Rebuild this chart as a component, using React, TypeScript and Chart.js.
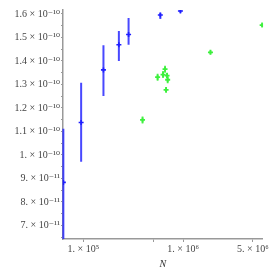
import React, { useEffect, useRef } from "react";
import { Chart, registerables } from "chart.js";

Chart.register(...registerables);

// Blue series (with error bars)
const blueN = [6.3e4, 9.5e4, 1.59e5, 2.27e5, 2.84e5, 5.91e5, 9.4e5];
const blueY = [8.83e-11, 1.138e-10, 1.362e-10, 1.469e-10, 1.513e-10, 1.596e-10, 1.613e-10];
const blueLo = [5.5e-11, 0.971e-10, 1.251e-10, 1.4e-10, 1.469e-10, 1.579e-10, 1.605e-10];
const blueHi = [1.111e-10, 1.307e-10, 1.467e-10, 1.528e-10, 1.583e-10, 1.605e-10, 1.62e-10];

// Green series (small error bars)
const greenN = [6.2e6, 1.88e6, 6.59e5, 6.29e5, 5.55e5, 6.9e5, 7.0e5, 6.75e5, 3.92e5];
const greenY = [1.553e-10, 1.437e-10, 1.365e-10, 1.342e-10, 1.331e-10, 1.338e-10, 1.32e-10, 1.277e-10, 1.149e-10];
const greenErr = [0.08e-11, 0.08e-11, 0.15e-11, 0.15e-11, 0.15e-11, 0.12e-11, 0.15e-11, 0.12e-11, 0.15e-11];

// Axes
const xTickValues = [1e5, 5e5, 1e6, 5e6];
const xTickLabels = ["1. × 10⁵", "", "1. × 10⁶", "5. × 10⁶"];
const yTickValues = [
  6.5e-11, 7e-11, 7.5e-11, 8e-11, 8.5e-11, 9e-11, 9.5e-11, 1e-10, 1.05e-10, 1.1e-10,
  1.15e-10, 1.2e-10, 1.25e-10, 1.3e-10, 1.35e-10, 1.4e-10, 1.45e-10, 1.5e-10, 1.55e-10, 1.6e-10,
];
const yTickLabels = [
  "", "7. × 10⁻¹¹", "", "8. × 10⁻¹¹", "", "9. × 10⁻¹¹", "", "1. × 10⁻¹⁰", "", "1.1 × 10⁻¹⁰",
  "", "1.2 × 10⁻¹⁰", "", "1.3 × 10⁻¹⁰", "", "1.4 × 10⁻¹⁰", "", "1.5 × 10⁻¹⁰", "", "1.6 × 10⁻¹⁰",
];
const xRange = [6.25e4, 6.3e6];
const yRange = [6.42e-11, 1.617e-10];

const BLUE = "rgb(30,30,255)";
const GREEN = "rgb(60,240,60)";

const errorBarPlugin = {
  id: "errorBars",
  beforeDatasetsDraw(chart: any) {
    const { ctx, chartArea, scales } = chart;
    const xs = scales.x;
    const ys = scales.y;
    ctx.save();
    ctx.beginPath();
    ctx.rect(chartArea.left - 2, chartArea.top, chartArea.right - chartArea.left + 4, chartArea.bottom - chartArea.top);
    ctx.clip();
    ctx.lineCap = "butt";
    ctx.strokeStyle = "rgba(40,40,255,0.85)";
    ctx.lineWidth = 2;
    blueN.forEach((n, i) => {
      const px = xs.getPixelForValue(n);
      ctx.beginPath();
      ctx.moveTo(px, ys.getPixelForValue(blueLo[i]));
      ctx.lineTo(px, ys.getPixelForValue(blueHi[i]));
      ctx.stroke();
    });
    ctx.strokeStyle = "rgba(60,240,60,0.9)";
    ctx.lineWidth = 1.8;
    greenN.forEach((n, i) => {
      const px = xs.getPixelForValue(n);
      ctx.beginPath();
      ctx.moveTo(px, ys.getPixelForValue(greenY[i] - greenErr[i]));
      ctx.lineTo(px, ys.getPixelForValue(greenY[i] + greenErr[i]));
      ctx.stroke();
    });
    ctx.restore();
  },
};

export default function App() {
  const ref = useRef<HTMLCanvasElement>(null);
  useEffect(() => {
    if (!ref.current) return;
    const tickFont = { family: "'Liberation Serif', 'DejaVu Serif', serif", size: 10 };
    const chart = new Chart(ref.current, {
      type: "scatter",
      data: {
        datasets: [
          {
            label: "blue",
            data: blueN.map((n, i) => ({ x: n, y: blueY[i] })),
            pointStyle: "cross",
            pointRadius: 2.5,
            borderWidth: 1.6,
            borderColor: BLUE,
            backgroundColor: BLUE,
          },
          {
            label: "green",
            data: greenN.map((n, i) => ({ x: n, y: greenY[i] })),
            pointStyle: "cross",
            pointRadius: 2.5,
            borderWidth: 1.8,
            borderColor: GREEN,
            backgroundColor: GREEN,
          },
        ],
      },
      options: {
        animation: false,
        responsive: false,
        maintainAspectRatio: false,
        layout: { padding: { top: 10, right: 7, left: 0, bottom: 0 } },
        plugins: { legend: { display: false }, tooltip: { enabled: false } },
        scales: {
          x: {
            type: "logarithmic",
            min: xRange[0],
            max: xRange[1],
            afterBuildTicks: (s: any) => {
              s.ticks = xTickValues.map((v) => ({ value: v }));
            },
            afterFit: (s: any) => {
              s.height = 31;
            },
            ticks: {
              autoSkip: false,
              maxRotation: 0,
              padding: 1,
              color: "#444",
              font: tickFont,
              callback: (v: any) => {
                const i = xTickValues.findIndex((t) => Math.abs(t - v) / t < 1e-6);
                return i >= 0 ? xTickLabels[i] : "";
              },
            },
            grid: { drawOnChartArea: false, tickLength: 3, color: "#999" },
            border: { color: "#999", width: 1.5 },
            title: {
              display: true,
              text: "N",
              color: "#333",
              padding: { top: 0, bottom: 0 },
              font: { family: "'Liberation Serif', serif", size: 10, style: "italic" },
            },
          },
          y: {
            type: "linear",
            min: yRange[0],
            max: yRange[1],
            afterBuildTicks: (s: any) => {
              s.ticks = yTickValues.map((v) => ({ value: v }));
            },
            afterFit: (s: any) => {
              s.width = 63;
            },
            ticks: {
              autoSkip: false,
              padding: 1,
              color: "#444",
              font: tickFont,
              callback: (v: any) => {
                const i = yTickValues.findIndex((t) => Math.abs(t - v) / t < 1e-6);
                return i >= 0 ? yTickLabels[i] : "";
              },
            },
            grid: { drawOnChartArea: false, tickLength: 2, color: "#999" },
            border: { color: "#999", width: 1.5 },
          },
        },
      },
      plugins: [errorBarPlugin],
    } as any);
    return () => chart.destroy();
  }, []);
  return (
    <div style={{ position: "fixed", left: 0, top: 0, width: 270, height: 270, background: "#fff" }}>
      <canvas ref={ref} width={270} height={270} style={{ width: 270, height: 270 }} />
    </div>
  );
}
